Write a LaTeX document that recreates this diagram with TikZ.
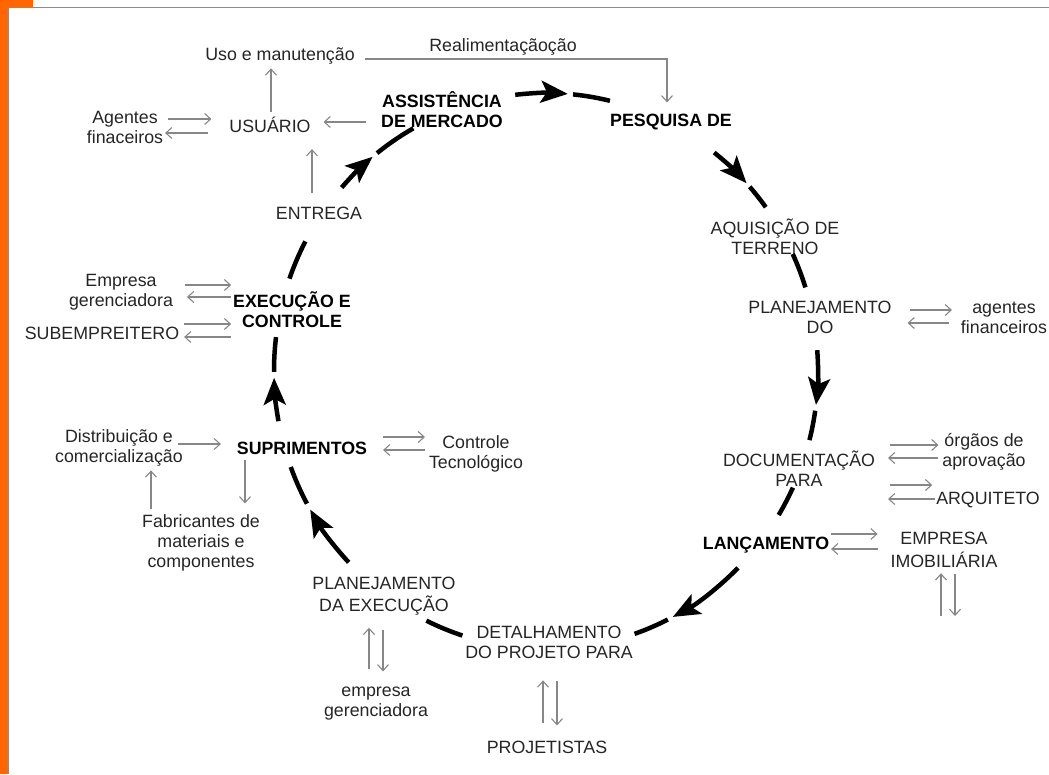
\documentclass[tikz,border=0pt]{standalone}
\usepackage{fontspec}
\setmainfont{Liberation Sans}
\usetikzlibrary{arrows.meta}
\definecolor{brandorange}{HTML}{FF6600}
\definecolor{framegray}{HTML}{8C8C8C}
\definecolor{linkgray}{HTML}{878787}
\definecolor{inkgray}{HTML}{252525}
\newcommand\fs{\fontsize{17.8}{20}\selectfont}
\tikzset{
  t/.style={inner sep=0pt, outer sep=0pt, align=center, font=\fs, text=inkgray},
  b/.style={inner sep=0pt, outer sep=0pt, align=center, font=\fs\bfseries, text=black},
  ga/.style={draw=linkgray, line width=1.1pt, -{Straight Barb[length=6pt,width=11pt]}},
  cyc/.style={draw=black, line width=4.5pt},
  cyca/.style={cyc, -{Stealth[length=27pt,width=22pt,inset=6pt]}},
}
\begin{document}
\begin{tikzpicture}[x=1pt,y=-1pt]
\useasboundingbox (0,0) rectangle (1049,774);
% page frame
\fill[brandorange] (0,0) rectangle (7.5,774);
\fill[brandorange] (0,0) rectangle (33,7);
\draw[framegray, line width=1.2pt] (8,7.5) -- (1049,7.5);
\draw[framegray, line width=1.2pt] (8,7.5) -- (8,774);

% stages and partners
\node[t] (uso) at (280,56.4) {\strut Uso e manutenção};
\node[t] (realim) at (503,47.4) {\strut Realimentaçãoção};
\node[t] (usuario) at (270,127.4) {\strut USUÁRIO};
\node[t] (agentes) at (125,129.4) {\strut Agentes\\\strut finaceiros};
\node[b] (assist) at (442,112.4) {\strut ASSISTÊNCIA\\\strut DE MERCADO};
\node[b] (pesquisa) at (671,122.4) {\strut PESQUISA DE};
\node[t] (entrega) at (319,215.4) {\strut ENTREGA};
\node[t] (aquis) at (775,240) {\strut AQUISIÇÃO DE\\\strut TERRENO};
\node[t] (planej) at (820,319.4) {\strut PLANEJAMENTO\\\strut DO};
\node[t] (agfin) at (1004,319.4) {\strut agentes\\\strut financeiros};
\node[t] (doc) at (799,472) {\strut DOCUMENTAÇÃO\\\strut PARA};
\node[t] (orgaos) at (984,452.4) {\strut órgãos de\\\strut aprovação};
\node[t] (arq) at (988,500.4) {\strut ARQUITETO};
\node[b] (lanc) at (766,545.4) {\strut LANÇAMENTO};
\node[t] (imob) at (944,552) {\strut EMPRESA\\\strut IMOBILIÁRIA};
\node[t] (detal) at (549,644.4) {\strut DETALHAMENTO\\\strut DO PROJETO PARA};
\node[t] (projet) at (547,749.4) {\strut PROJETISTAS};
\node[t] (planex) at (384,596.4) {\strut PLANEJAMENTO\\\strut DA EXECUÇÃO};
\node[t] (empger) at (376,702.4) {\strut empresa\\\strut gerenciadora};
\node[b] (suprim) at (302,450.4) {\strut SUPRIMENTOS};
\node[t] (distrib) at (119,448.4) {\strut Distribuição e\\\strut comercialização};
\node[t] (fabric) at (201,543.4) {\strut Fabricantes de\\\strut materiais e\\\strut componentes};
\node[t] (ctrl) at (476,454) {\strut Controle\\\strut Tecnológico};
\node[b] (exec) at (292,312.4) {\strut EXECUÇÃO E\\\strut CONTROLE};
\node[t] (empger2) at (121,292.4) {\strut Empresa\\\strut gerenciadora};
\node[t] (subemp) at (102,335.4) {\strut SUBEMPREITERO};
\coordinate (imobend) at (948,616);

% the main cycle (elliptical path around the hub)
\coordinate (hub) at (546,371);
\foreach \s/\e in {263.5/274.6, 308.2/317.5, 355.7/367.0, 45.1/62.2, 136.5/150.1, 169.6/178.6, 221.3/230.4}
  \draw[cyca] (hub) ++(\s:272 and 278) arc[start angle=\s, end angle=\e, x radius=272, y radius=278];
\foreach \s/\e in {275.7/283.6, 318.5/323.9, 335.1/342.5, 368.2/374.4, 24.8/31.2, 63.4/71.0, 107.9/116.1, 151.5/159.8, 179.8/187.0, 199.4/207.8, 231.6/240.8}
  \draw[cyc] (hub) ++(\s:272 and 278) arc[start angle=\s, end angle=\e, x radius=272, y radius=278];

% feedback loop
\draw[ga, shorten <=10pt, shorten >=10pt] (uso.east |- 0,59) -| (pesquisa.north -| 667,0);

% exchanges with partners
\draw[ga, shorten <=5pt, shorten >=2pt] (usuario.north -| 271,0) -- (uso.south -| 271,0);
\draw[ga, shorten <=15pt, shorten >=13pt] (assist.west |- 0,122) -- (usuario.east |- 0,122);
\draw[ga, shorten <=5pt, shorten >=18pt] (agentes.east |- 0,119) -- (usuario.west |- 0,119);
\draw[ga, shorten <=21pt, shorten >=2pt] (usuario.west |- 0,133) -- (agentes.east |- 0,133);
\draw[ga, shorten <=12pt, shorten >=11pt] (entrega.north -| 312,0) -- (usuario.south -| 312,0);

\draw[ga, shorten <=12pt, shorten >=2pt] (empger2.east |- 0,285) -- (exec.west |- 0,285);
\draw[ga, shorten <=2pt, shorten >=14pt] (exec.west |- 0,297) -- (empger2.east |- 0,297);
\draw[ga, shorten <=5pt, shorten >=2pt] (subemp.east |- 0,324) -- (exec.west |- 0,324);
\draw[ga, shorten <=2pt, shorten >=5pt] (exec.west |- 0,337) -- (subemp.east |- 0,337);

\draw[ga, shorten <=-5pt, shorten >=16pt] (distrib.east |- 0,444) -- (suprim.west |- 0,444);
\draw[ga, shorten <=4pt, shorten >=2pt] (fabric.north -| 151,0) -- (distrib.south -| 151,0);
\draw[ga, shorten >=10pt] (suprim.south -| 245,0) -- (fabric.north -| 245,0);
\draw[ga, shorten <=16pt, shorten >=4pt] (suprim.east |- 0,437) -- (ctrl.west |- 0,437);
\draw[ga, shorten <=4pt, shorten >=16pt] (ctrl.west |- 0,450) -- (suprim.east |- 0,450);

\draw[ga, shorten <=13pt, shorten >=10pt] (empger.north -| 369,0) -- (planex.south -| 369,0);
\draw[ga, shorten <=12pt, shorten >=11pt] (planex.south -| 383,0) -- (empger.north -| 383,0);
\draw[ga, shorten <=16pt, shorten >=16pt] (projet.north -| 543,0) -- (detal.south -| 543,0);
\draw[ga, shorten <=17pt, shorten >=14pt] (detal.south -| 557,0) -- (projet.north -| 557,0);

\draw[ga, shorten <=2pt, shorten >=13pt] (lanc.east |- 0,534) -- (imob.west |- 0,534);
\draw[ga, shorten <=13pt, shorten >=2pt] (imob.west |- 0,549) -- (lanc.east |- 0,549);
\draw[ga] (imobend -| 941,0) -- (imob.south -| 941,0);
\draw[ga, shorten <=1pt] (imob.south -| 955,0) -- (imobend -| 955,0);

\draw[ga, shorten <=15pt, shorten >=4pt] (doc.east |- 0,445) -- (orgaos.west |- 0,445);
\draw[ga, shorten <=4pt, shorten >=13pt] (orgaos.west |- 0,458) -- (doc.east |- 0,458);
\draw[ga, shorten <=15pt, shorten >=4pt] (doc.east |- 0,485) -- (arq.west |- 0,485);
\draw[ga, shorten <=1pt, shorten >=13pt] (arq.west |- 0,499) -- (doc.east |- 0,499);

\draw[ga, shorten <=18pt, shorten >=9pt] (planej.east |- 0,310) -- (agfin.west |- 0,310);
\draw[ga, shorten <=12pt, shorten >=16pt] (agfin.west |- 0,323) -- (planej.east |- 0,323);
\end{tikzpicture}
\end{document}
